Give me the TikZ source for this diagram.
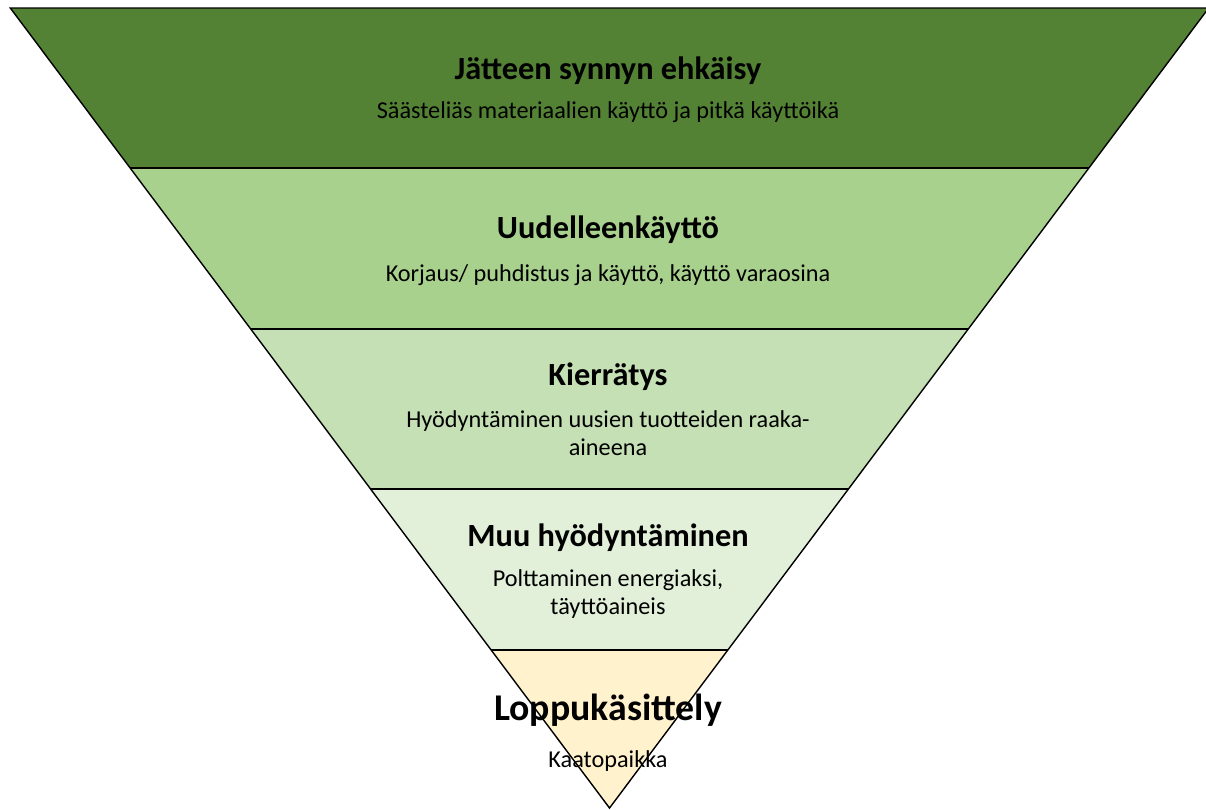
\documentclass[tikz,border=0pt]{standalone}
\usepackage{fontspec}
\setmainfont{Carlito}
\usetikzlibrary{positioning,calc}

\definecolor{bandA}{HTML}{548235}
\definecolor{bandB}{HTML}{A9D18E}
\definecolor{bandC}{HTML}{C5E0B4}
\definecolor{bandD}{HTML}{E2F0D9}
\definecolor{bandE}{HTML}{FFF2CC}

\begin{document}
\begin{tikzpicture}[x=0.02cm, y=-0.02cm,
    heading/.style={anchor=base, font=\bfseries\fontsize{18.4}{22}\selectfont},
    subline/.style={anchor=base, align=center, font=\fontsize{13.8}{15.5}\selectfont},
    outline/.style={draw=black, line width=0.8pt, line join=miter}]
    \useasboundingbox (0,0) rectangle (1206,809);
    % bands of the inverted pyramid
    \foreach \ytop/\ybot/\col in {8/168/bandA, 168/329/bandB, 329/489/bandC, 489/650/bandD, 650/808/bandE}
        \fill[\col] ({609.5-0.749*(808-\ytop)},\ytop) -- ({609.5+0.749*(808-\ytop)},\ytop)
                   -- ({609.5+0.749*(808-\ybot)},\ybot) -- ({609.5-0.749*(808-\ybot)},\ybot) -- cycle;
    \coordinate (tl) at (10.3,8);
    \coordinate (tr) at (1208.7,8);
    \coordinate (apex) at (609.5,808);
    \draw[outline] (tl) -- (tr) -- (apex) -- cycle;
    \foreach \y in {168,329,489,650}
        \draw[outline] ({609.5-0.749*(808-\y)},\y) -- ({609.5+0.749*(808-\y)},\y);
    % texts (two-line nodes sit on their last baseline)
    \node[heading] (h1) at (608,79) {Jätteen synnyn ehkäisy};
    \node[subline] (s1) at (608,118) {Säästeliäs materiaalien käyttö ja pitkä käyttöikä};
    \node[heading] (h2) at (608,238) {Uudelleenkäyttö};
    \node[subline] (s2) at (608,281) {Korjaus/ puhdistus ja käyttö, käyttö varaosina};
    \node[heading] (h3) at (608,385) {Kierrätys};
    \node[subline] (s3) at (608,455) {Hyödyntäminen uusien tuotteiden raaka-\\aineena};
    \node[heading] (h4) at (608,546) {Muu hyödyntäminen};
    \node[subline] (s4) at (608,614) {Polttaminen energiaksi,\\täyttöaineis};
    \node[heading, font=\bfseries\fontsize{21.5}{26}\selectfont] (h5) at (608,720) {Loppukäsittely};
    \node[subline] (s5) at (608,767) {Kaatopaikka};
\end{tikzpicture}
\end{document}
